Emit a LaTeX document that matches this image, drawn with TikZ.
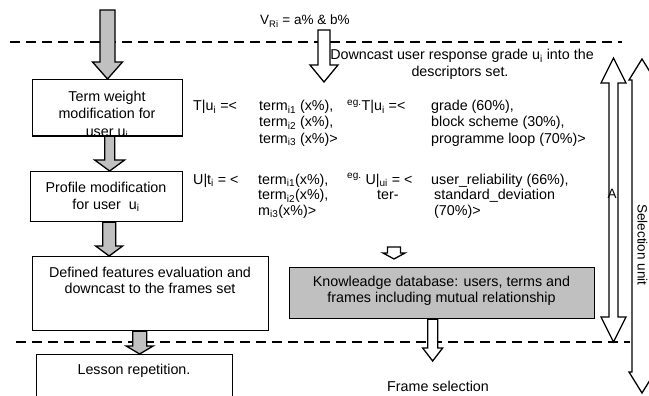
\documentclass[tikz,border=0pt]{standalone}
\usepackage{fontspec}
\setmainfont{Liberation Sans}
\usetikzlibrary{calc}
\newcommand{\fs}{\fontsize{14.3}{16.5}\selectfont}
\newcommand{\fss}{\fontsize{13.5}{16}\selectfont}
\newcommand{\sbt}[1]{\textsubscript{#1}}
\newcommand{\spt}[1]{\textsuperscript{#1}}
% block arrow pointing down: style, from (top), to (tip), shaft half, head half, head length
\newcommand{\blkdown}[6]{\path[#1] let \p1=(#2), \p2=(#3) in
  (\x1-#4,\y1) -- (\x1-#4,\y2+#6) -- (\x1-#5,\y2+#6) -- (\x1,\y2) --
  (\x1+#5,\y2+#6) -- (\x1+#4,\y2+#6) -- (\x1+#4,\y1) -- cycle;}
% double headed vertical block arrow: style, top tip, bottom tip, shaft half, head half, head length
\newcommand{\blkdouble}[6]{\path[#1] let \p1=(#2), \p2=(#3) in
  (\x1,\y1) -- (\x1+#5,\y1-#6) -- (\x1+#4,\y1-#6) -- (\x1+#4,\y2+#6) --
  (\x1+#5,\y2+#6) -- (\x1,\y2) -- (\x1-#5,\y2+#6) -- (\x1-#4,\y2+#6) --
  (\x1-#4,\y1-#6) -- (\x1-#5,\y1-#6) -- cycle;}
\definecolor{boxgray}{RGB}{192,192,192}
\tikzset{
  box/.style={draw, line width=1.3pt, inner sep=0pt, anchor=north west},
  graybox/.style={box, fill=boxgray},
  grayarr/.style={draw, fill=boxgray, line width=1.3pt, line join=miter},
  whitearr/.style={draw, fill=white, line width=1.3pt, line join=miter},
  dashline/.style={dash pattern=on 10pt off 6pt, line width=1.2pt},
  txt/.style={inner sep=0pt, font=\fs, anchor=base},
  ltxt/.style={inner sep=0pt, font=\fs, anchor=base west},
}
\begin{document}
\begin{tikzpicture}[x=1pt,y=-1pt]
\clip (0,0) rectangle (649,396);
\fill[white] (0,0) rectangle (649,396);

% dashed separators
\coordinate (d1a) at (10,42);  \coordinate (d1b) at (622,42);
\coordinate (d2a) at (16,342); \coordinate (d2b) at (630,342);
\draw[dashline] (d1a) -- (d1b);
\draw[dashline] (d2a) -- (d2b);

% left column boxes
\node[box, minimum width=150pt, minimum height=56pt] (b1) at (32,79) {};
\node[box, minimum width=152pt, minimum height=50pt] (b2) at (30,171) {};
\node[box, minimum width=236pt, minimum height=74pt] (b3) at (32,256) {};
\node[box, minimum width=196pt, minimum height=70pt] (b4) at (36,354) {};

\begin{scope}
\clip (b1.north west) rectangle (b1.south east);
\node[txt] (t1a) at (107,102) {Term weight};
\node[txt] (t1b) at (107,119) {modification for};
\node[txt] (t1c) at (107,136.5) {user u\sbt{i}};
\end{scope}
\draw[line width=1.3pt] (b1.south west) -- (b1.south east);
\node[txt] (t2a) at (106,193) {Profile modification};
\node[txt] (t2b) at (106,209) {for user\ \ u\sbt{i}};
\node[txt] (t3a) at (150,277) {Defined features evaluation and};
\node[txt] (t3b) at (150,293) {downcast to the frames set};
\node[txt] (t4a) at (134,374) {Lesson repetition.};

% gray block arrows
\coordinate (g0) at (107.5,10);
\blkdown{grayarr}{g0}{b1.north}{7.5pt}{15pt}{17pt}
\blkdown{grayarr}{[xshift=2pt]b1.south}{b2.north}{5pt}{15pt}{11pt}
\blkdown{grayarr}{[xshift=2.5pt]b2.south}{b3.north}{6.5pt}{13.5pt}{10pt}
\blkdown{grayarr}{[xshift=-11pt]b3.south}{b4.north}{7pt}{13.5pt}{8pt}

% top text and white arrow
\node[ltxt, font=\fss] (vr) at (260,25) {V\sbt{Ri} = a\% \& b\%};
\coordinate (w0) at (324,30); \coordinate (w1) at (324,82);
\blkdown{whitearr}{w0}{w1}{6pt}{14pt}{17pt}
\node[txt] (dc1) at (462,60) {Downcast user response grade u\sbt{i} into the};
\node[txt] (dc2) at (460,77) {descriptors set.};

% formulas
\node[ltxt] (f1a) at (193,111) {T|u\sbt{i} =<};
\node[ltxt] (f1b) at (259,111) {term\sbt{i1} (x\%),};
\node[ltxt] (f1c) at (259,127) {term\sbt{i2} (x\%),};
\node[ltxt] (f1d) at (259,143) {term\sbt{i3} (x\%)>};
\node[ltxt] (e1a) at (347,111) {\spt{eg.}T|u\sbt{i} =<};
\node[ltxt] (e1b) at (431,111) {grade (60\%),};
\node[ltxt] (e1c) at (431,127) {block scheme (30\%),};
\node[ltxt] (e1d) at (431,143) {programme loop (70\%)>};

\node[ltxt] (f2a) at (193,184) {U|t\sbt{i} = <};
\node[ltxt] (f2b) at (258,184) {term\sbt{i1}(x\%),};
\node[ltxt] (f2c) at (258,200) {term\sbt{i2}(x\%),};
\node[ltxt] (f2d) at (258,215) {m\sbt{i3}(x\%)>};
\node[ltxt] (e2a) at (347,184) {\spt{eg.} U|\sbt{ui} = <};
\node[ltxt] (e2b) at (377,200) {ter-};
\node[ltxt] (e2c) at (431,184) {user\_reliability (66\%),};
\node[ltxt] (e2d) at (434,200) {standard\_deviation};
\node[ltxt] (e2e) at (434,215) {(70\%)>};

% knowledge database
\coordinate (k0) at (394,247); \coordinate (k1) at (394,259);
\blkdown{whitearr}{k0}{k1}{6.5pt}{11pt}{6pt}
\node[graybox, minimum width=305pt, minimum height=51pt] (kb) at (289,267) {};
\node[txt] (kt1) at (441.5,286) {Knowleadge database: users, terms and};
\node[txt] (kt2) at (441.5,302) {frames including mutual relationship};
\coordinate (fs1) at (432,361);
\blkdown{whitearr}{[xshift=-9.5pt]kb.south}{fs1}{5pt}{10pt}{13pt}
\node[txt] (fsel) at (438,391) {Frame selection};

% right double arrows
\coordinate (a0) at (613.5,58); \coordinate (a1) at (613.5,342);
\blkdouble{whitearr}{a0}{a1}{4.5pt}{12.5pt}{25pt}
\node[txt, font=\fss] (al) at (612,198) {A};
\coordinate (s0) at (642,59); \coordinate (s1) at (642,393);
\blkdouble{whitearr}{s0}{s1}{10pt}{13pt}{21pt}
\node[inner sep=0pt, font=\fss, rotate=-90] (sel) at (642.5,245) {Selection unit};
\end{tikzpicture}
\end{document}
